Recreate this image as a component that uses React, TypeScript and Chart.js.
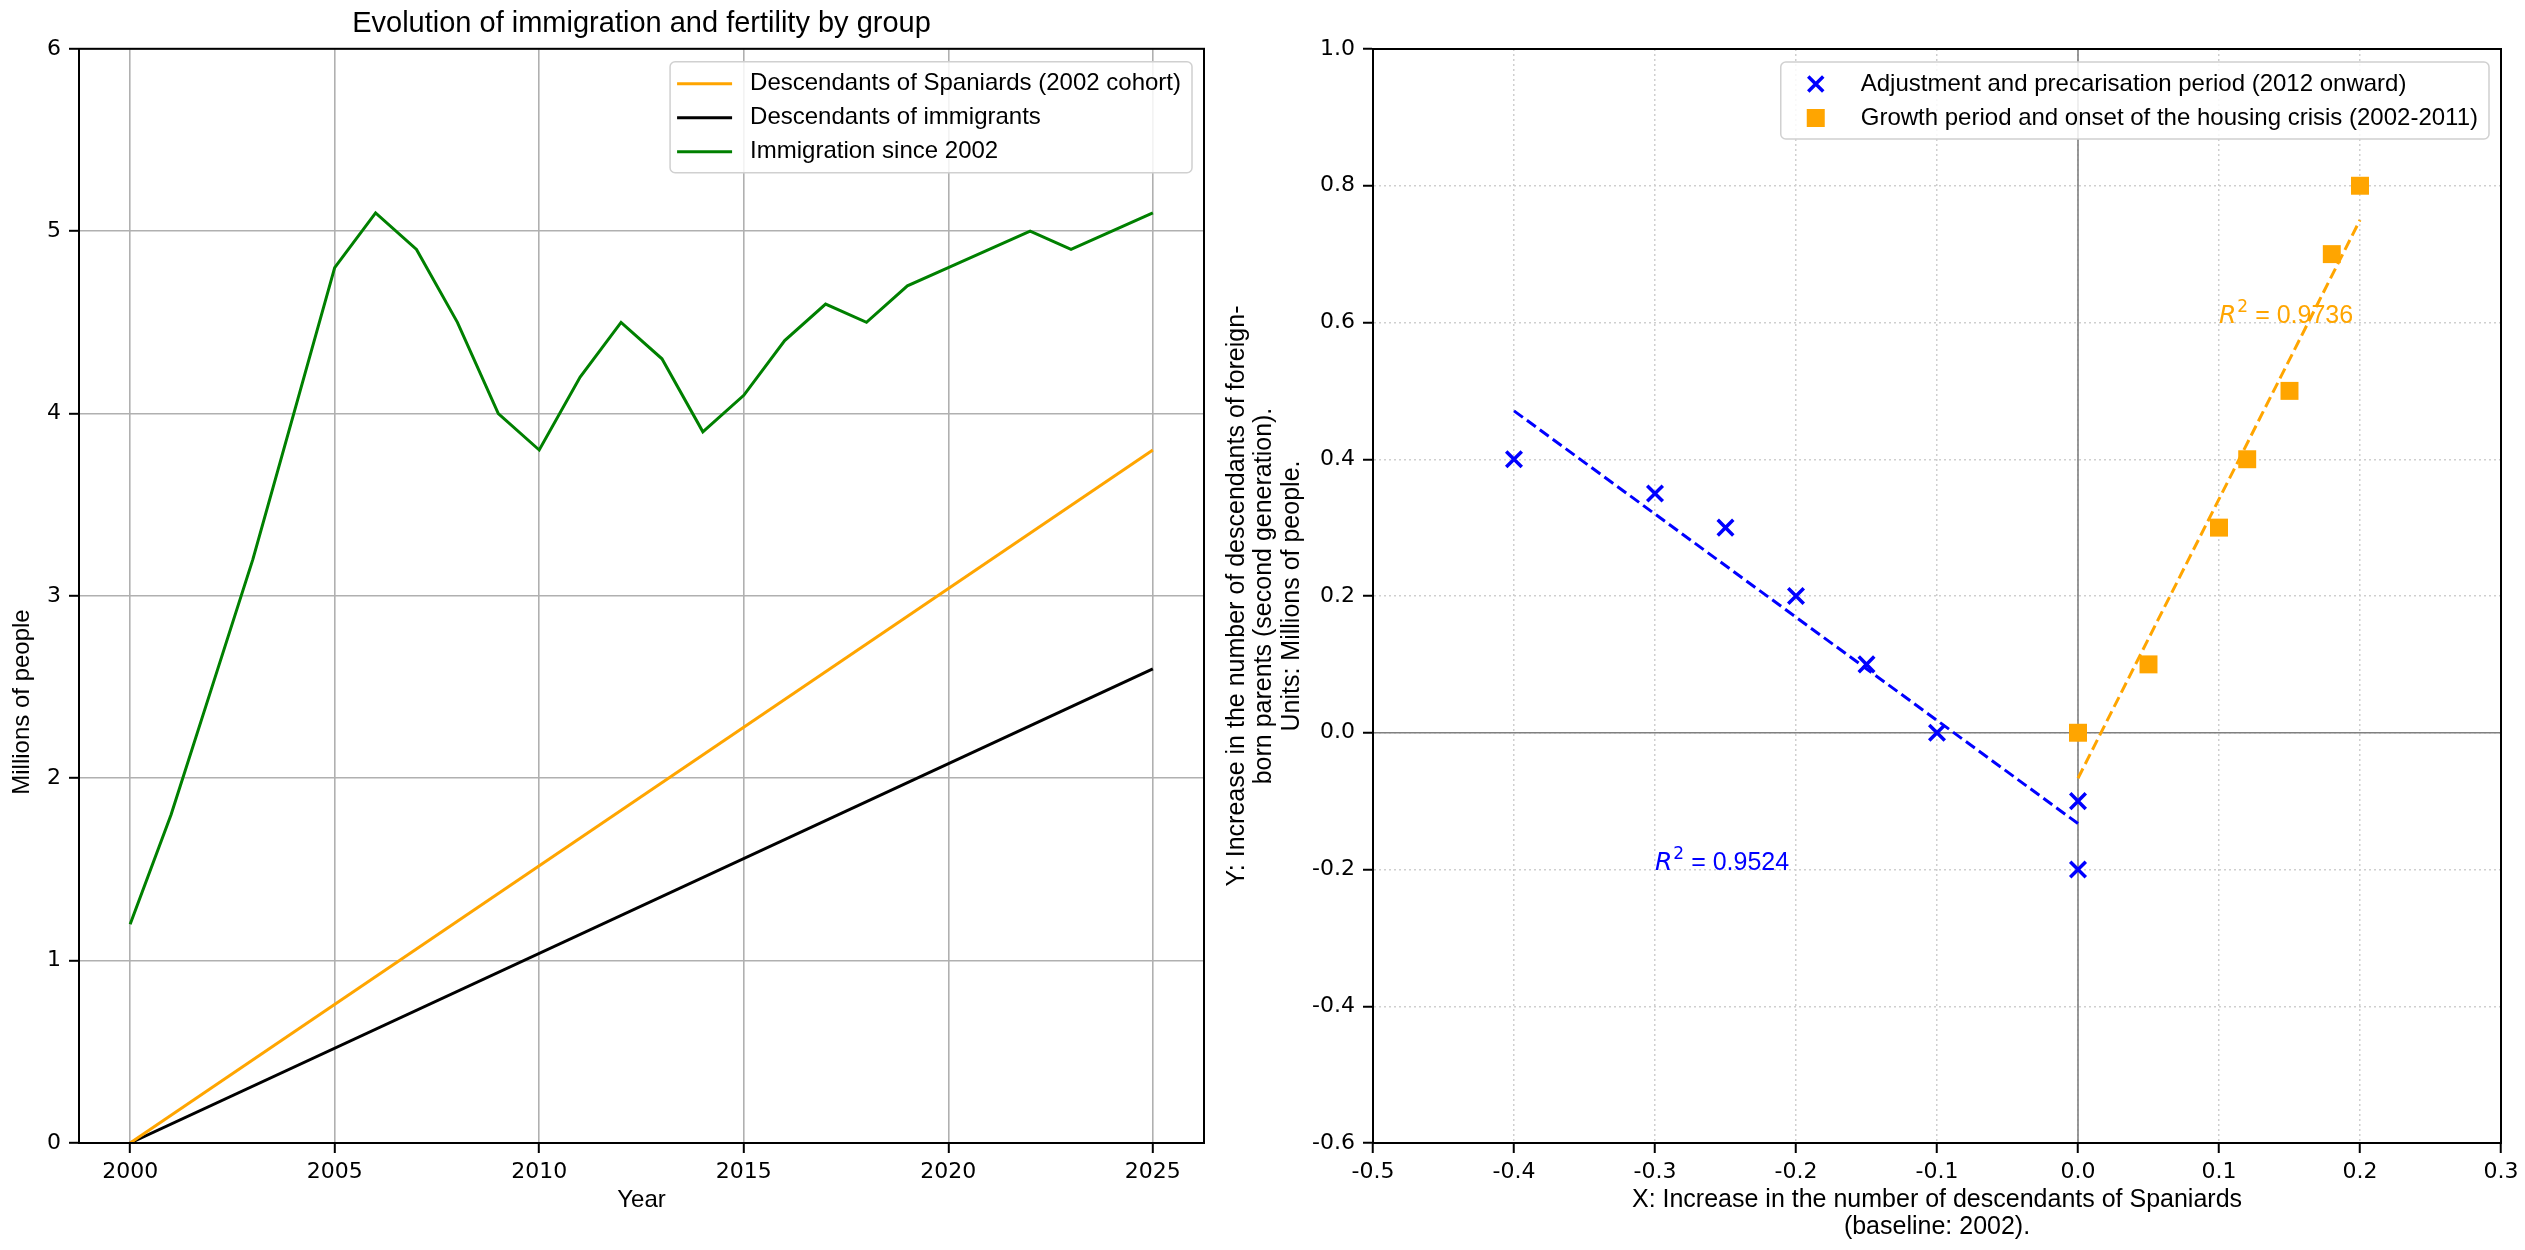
import React, { useEffect, useRef } from 'react'
import { Chart, registerables } from 'chart.js'

Chart.register(...registerables)

// ---- left panel: evolution by year (millions of people)
const YEARS = [
  2000, 2001, 2002, 2003, 2004, 2005, 2006, 2007, 2008, 2009, 2010, 2011, 2012,
  2013, 2014, 2015, 2016, 2017, 2018, 2019, 2020, 2021, 2022, 2023, 2024, 2025,
]
const IMMIGRATION = [
  1.2, 1.8, 2.5, 3.2, 4.0, 4.8, 5.1, 4.9, 4.5, 4.0, 3.8, 4.2, 4.5,
  4.3, 3.9, 4.1, 4.4, 4.6, 4.5, 4.7, 4.8, 4.9, 5.0, 4.9, 5.0, 5.1,
]
const TREND_YEARS = [2000, 2025]
const SPANIARD_DESC = [0, 3.8]
const IMMIGRANT_DESC = [0, 2.6]
const YEAR_TICKS = [2000, 2005, 2010, 2015, 2020, 2025]
const PEOPLE_TICKS = [0, 1, 2, 3, 4, 5, 6]

// ---- right panel: increase of descendants (millions)
const ADJ_X = [-0.4, -0.3, -0.25, -0.2, -0.15, -0.1, 0.0, 0.0]
const ADJ_Y = [0.4, 0.35, 0.3, 0.2, 0.1, 0.0, -0.1, -0.2]
const GROWTH_X = [0.0, 0.05, 0.1, 0.12, 0.15, 0.18, 0.2]
const GROWTH_Y = [0.0, 0.1, 0.3, 0.4, 0.5, 0.7, 0.8]
const X_TICKS = [-0.5, -0.4, -0.3, -0.2, -0.1, 0.0, 0.1, 0.2, 0.3]
const Y_TICKS = [-0.6, -0.4, -0.2, 0.0, 0.2, 0.4, 0.6, 0.8, 1.0]
const ADJ_R2_AT = [-0.3, -0.2]
const GROWTH_R2_AT = [0.1, 0.6]

const SANS = '"Liberation Sans", Arial, sans-serif'
const TICK_FONT = { family: '"DejaVu Sans", sans-serif', size: 22 }
const ORANGE = '#ffa500'
const BLUE = '#0000ff'

// least squares fit over the points, line spans the x range of the group
function linearFit(xs: number[], ys: number[]) {
  const n = xs.length
  const mx = xs.reduce((a, b) => a + b, 0) / n
  const my = ys.reduce((a, b) => a + b, 0) / n
  let sxx = 0, sxy = 0, syy = 0
  for (let i = 0; i < n; i++) {
    sxx += (xs[i] - mx) ** 2
    sxy += (xs[i] - mx) * (ys[i] - my)
    syy += (ys[i] - my) ** 2
  }
  const slope = sxy / sxx
  const icpt = my - slope * mx
  const x0 = Math.min(...xs)
  const x1 = Math.max(...xs)
  return {
    line: [{ x: x0, y: icpt + slope * x0 }, { x: x1, y: icpt + slope * x1 }],
    r2: (sxy * sxy) / (sxx * syy),
  }
}

const framePlugin = {
  id: 'frame',
  afterDatasetsDraw(chart: any) {
    const { ctx, chartArea: a } = chart
    ctx.save()
    ctx.strokeStyle = '#000'
    ctx.lineWidth = 2
    ctx.strokeRect(a.left, a.top, a.right - a.left, a.bottom - a.top)
    ctx.restore()
  },
}

// matplotlib-like legend box in the upper right corner of the plot
const boxLegend = {
  id: 'boxLegend',
  afterDraw(chart: any) {
    const { ctx, chartArea } = chart
    const items = chart.data.datasets.filter((d: any) => d.label)
    ctx.save()
    ctx.font = `24px ${SANS}`
    const textW = Math.max(...items.map((d: any) => ctx.measureText(d.label).width))
    const w = 80 + textW + 11
    const h = 22 + 34 * (items.length - 1) + 21
    const x = chartArea.right - 12 - w
    const y = chartArea.top + 13
    ctx.beginPath()
    ctx.roundRect(x, y, w, h, 5)
    ctx.fillStyle = 'rgba(255,255,255,0.85)'
    ctx.fill()
    ctx.strokeStyle = '#d0d0d0'
    ctx.lineWidth = 1.5
    ctx.stroke()
    items.forEach((d: any, i: number) => {
      const cy = y + 22 + 34 * i
      if (d.pointStyle === 'crossRot') {
        const cx = x + 35
        const r = 7.5
        ctx.strokeStyle = d.borderColor
        ctx.lineWidth = 3.5
        ctx.beginPath()
        ctx.moveTo(cx - r, cy - r)
        ctx.lineTo(cx + r, cy + r)
        ctx.moveTo(cx + r, cy - r)
        ctx.lineTo(cx - r, cy + r)
        ctx.stroke()
      } else if (d.pointStyle === 'rect') {
        ctx.fillStyle = d.backgroundColor
        ctx.fillRect(x + 35 - 9, cy - 9, 18, 18)
      } else {
        ctx.strokeStyle = d.borderColor
        ctx.lineWidth = 3
        ctx.beginPath()
        ctx.moveTo(x + 7, cy)
        ctx.lineTo(x + 62, cy)
        ctx.stroke()
      }
      ctx.fillStyle = '#000'
      ctx.textAlign = 'left'
      ctx.textBaseline = 'middle'
      ctx.fillText(d.label, x + 80, cy)
    })
    ctx.restore()
  },
}

const leftYTitle = {
  id: 'leftYTitle',
  afterDraw(chart: any) {
    const { ctx } = chart
    ctx.save()
    ctx.translate(22, 702)
    ctx.rotate(-Math.PI / 2)
    ctx.font = `24px ${SANS}`
    ctx.fillStyle = '#000'
    ctx.textAlign = 'center'
    ctx.textBaseline = 'middle'
    ctx.fillText('Millions of people', 0, 0)
    ctx.restore()
  },
}

function drawR2(chart: any, at: number[], r2: number, color: string) {
  const { ctx, scales } = chart
  let px = scales.x.getPixelForValue(at[0])
  const py = scales.y.getPixelForValue(at[1])
  ctx.save()
  ctx.fillStyle = color
  ctx.textAlign = 'left'
  ctx.textBaseline = 'alphabetic'
  ctx.font = `italic 25px "DejaVu Sans", sans-serif`
  ctx.fillText('R', px, py)
  px += ctx.measureText('R').width + 1
  ctx.font = `17px "DejaVu Sans", sans-serif`
  ctx.fillText('2', px, py - 11)
  px += ctx.measureText('2').width
  ctx.font = `25px ${SANS}`
  ctx.fillText(` = ${r2.toFixed(4)}`, px, py)
  ctx.restore()
}

function baseScale(ticks: number[], fmt: (v: number) => string) {
  return {
    type: 'linear' as const,
    afterBuildTicks: (axis: any) => {
      axis.ticks = ticks.map((v) => ({ value: v }))
    },
    ticks: {
      color: '#000',
      font: TICK_FONT,
      callback: (v: any) => fmt(Number(v)),
      autoSkip: false,
      maxRotation: 0,
    },
    border: { color: '#000', width: 2 },
  }
}

function LeftChart() {
  const ref = useRef<HTMLCanvasElement>(null)
  useEffect(() => {
    if (!ref.current) return
    const zip = (xs: number[], ys: number[]) => xs.map((x, i) => ({ x, y: ys[i] }))
    const chart = new Chart(ref.current, {
      type: 'line',
      data: {
        datasets: [
          {
            label: 'Descendants of Spaniards (2002 cohort)',
            data: zip(TREND_YEARS, SPANIARD_DESC),
            borderColor: ORANGE,
            borderWidth: 3,
            pointRadius: 0,
          },
          {
            label: 'Descendants of immigrants',
            data: zip(TREND_YEARS, IMMIGRANT_DESC),
            borderColor: '#000000',
            borderWidth: 3,
            pointRadius: 0,
          },
          {
            label: 'Immigration since 2002',
            data: zip(YEARS, IMMIGRATION),
            borderColor: '#008000',
            borderWidth: 3,
            pointRadius: 0,
          },
        ],
      },
      options: {
        animation: false,
        responsive: false,
        devicePixelRatio: 1,
        events: [],
        layout: { padding: { left: 0, right: 6, top: 0, bottom: 0 } },
        plugins: {
          legend: { display: false },
          tooltip: { enabled: false },
          title: {
            display: true,
            text: 'Evolution of immigration and fertility by group',
            color: '#000',
            font: { family: SANS, size: 29, weight: 'normal' },
            padding: { top: 7, bottom: 7 },
            fullSize: false,
          },
        },
        scales: {
          x: {
            ...baseScale(YEAR_TICKS, (v) => String(v)),
            min: 1998.75,
            max: 2026.25,
            afterFit: (s: any) => { s.height = 107 },
            grid: { color: '#b0b0b0', lineWidth: 1.6, tickColor: '#000', tickWidth: 2, tickLength: 10 },
            ticks: { ...baseScale(YEAR_TICKS, (v) => String(v)).ticks, padding: 6 },
            title: {
              display: true,
              text: 'Year',
              color: '#000',
              font: { family: SANS, size: 24, lineHeight: 1.1 },
              padding: { top: 0, bottom: 36 },
            },
          },
          y: {
            ...baseScale(PEOPLE_TICKS, (v) => String(v)),
            min: 0,
            max: 6,
            afterFit: (s: any) => { s.width = 79 },
            grid: { color: '#b0b0b0', lineWidth: 1.6, tickColor: '#000', tickWidth: 2, tickLength: 10 },
            ticks: { ...baseScale(PEOPLE_TICKS, (v) => String(v)).ticks, padding: 8 },
          },
        },
      } as any,
      plugins: [framePlugin, leftYTitle, boxLegend],
    })
    return () => chart.destroy()
  }, [])
  return (
    <canvas
      ref={ref}
      width={1210}
      height={1250}
      style={{ position: 'absolute', left: 0, top: 0, width: 1210, height: 1250 }}
    />
  )
}

function RightChart() {
  const ref = useRef<HTMLCanvasElement>(null)
  useEffect(() => {
    if (!ref.current) return
    const zip = (xs: number[], ys: number[]) => xs.map((x, i) => ({ x, y: ys[i] }))
    const adjFit = linearFit(ADJ_X, ADJ_Y)
    const growthFit = linearFit(GROWTH_X, GROWTH_Y)
    const xMin = X_TICKS[0]
    const xMax = X_TICKS[X_TICKS.length - 1]
    const yMin = Y_TICKS[0]
    const yMax = Y_TICKS[Y_TICKS.length - 1]

    const r2Plugin = {
      id: 'r2',
      afterDatasetsDraw(chart: any) {
        drawR2(chart, ADJ_R2_AT, adjFit.r2, BLUE)
        drawR2(chart, GROWTH_R2_AT, growthFit.r2, ORANGE)
      },
    }

    const chart = new Chart(ref.current, {
      type: 'scatter',
      data: {
        datasets: [
          {
            label: 'Adjustment and precarisation period (2012 onward)',
            data: zip(ADJ_X, ADJ_Y),
            pointStyle: 'crossRot',
            pointRadius: 11,
            borderColor: BLUE,
            backgroundColor: BLUE,
            borderWidth: 3.5,
            pointBorderWidth: 3.5,
          },
          {
            label: 'Growth period and onset of the housing crisis (2002-2011)',
            data: zip(GROWTH_X, GROWTH_Y),
            pointStyle: 'rect',
            pointRadius: 12.7,
            borderColor: ORANGE,
            backgroundColor: ORANGE,
            pointBorderWidth: 0,
          },
          {
            label: '',
            data: adjFit.line,
            showLine: true,
            borderColor: BLUE,
            borderWidth: 3,
            borderDash: [11, 5],
            pointRadius: 0,
          },
          {
            label: '',
            data: growthFit.line,
            showLine: true,
            borderColor: ORANGE,
            borderWidth: 3,
            borderDash: [11, 5],
            pointRadius: 0,
          },
          {
            label: '',
            data: [{ x: xMin, y: 0 }, { x: xMax, y: 0 }],
            showLine: true,
            borderColor: '#808080',
            borderWidth: 1.6,
            pointRadius: 0,
          },
          {
            label: '',
            data: [{ x: 0, y: yMin }, { x: 0, y: yMax }],
            showLine: true,
            borderColor: '#808080',
            borderWidth: 1.6,
            pointRadius: 0,
          },
        ],
      },
      options: {
        animation: false,
        responsive: false,
        devicePixelRatio: 1,
        events: [],
        layout: { padding: { left: 0, right: 24, top: 49, bottom: 0 } },
        plugins: {
          legend: { display: false },
          tooltip: { enabled: false },
        },
        scales: {
          x: {
            ...baseScale(X_TICKS, (v) => v.toFixed(1)),
            min: xMin,
            max: xMax,
            afterFit: (s: any) => { s.height = 107 },
            grid: { color: '#cfcfcf', lineWidth: 1.5, tickColor: '#000', tickWidth: 2, tickLength: 10 },
            border: { color: '#000', width: 2, dash: [2, 3] },
            ticks: { ...baseScale(X_TICKS, (v) => v.toFixed(1)).ticks, padding: 6 },
            title: {
              display: true,
              text: ['X: Increase in the number of descendants of Spaniards', '(baseline: 2002).'],
              color: '#000',
              font: { family: SANS, size: 25, lineHeight: 1.1 },
              padding: { top: 0, bottom: 9 },
            },
          },
          y: {
            ...baseScale(Y_TICKS, (v) => v.toFixed(1)),
            min: yMin,
            max: yMax,
            afterFit: (s: any) => { s.width = 163 },
            grid: { color: '#cfcfcf', lineWidth: 1.5, tickColor: '#000', tickWidth: 2, tickLength: 10 },
            border: { color: '#000', width: 2, dash: [2, 3] },
            ticks: { ...baseScale(Y_TICKS, (v) => v.toFixed(1)).ticks, padding: 8 },
            title: {
              display: true,
              text: [
                'Y: Increase in the number of descendants of foreign-',
                'born parents (second generation).',
                'Units: Millions of people.',
              ],
              color: '#000',
              font: { family: SANS, size: 25, lineHeight: 1.1 },
              padding: { top: 13, bottom: 0 },
            },
          },
        },
      } as any,
      plugins: [framePlugin, r2Plugin, boxLegend],
    })
    return () => chart.destroy()
  }, [])
  return (
    <canvas
      ref={ref}
      width={1315}
      height={1250}
      style={{ position: 'absolute', left: 1210, top: 0, width: 1315, height: 1250 }}
    />
  )
}

export default function App() {
  useEffect(() => {
    document.body.style.margin = '0'
    document.body.style.background = '#fff'
  }, [])
  return (
    <div style={{ position: 'relative', width: 2525, height: 1250, background: '#fff' }}>
      <LeftChart />
      <RightChart />
    </div>
  )
}
